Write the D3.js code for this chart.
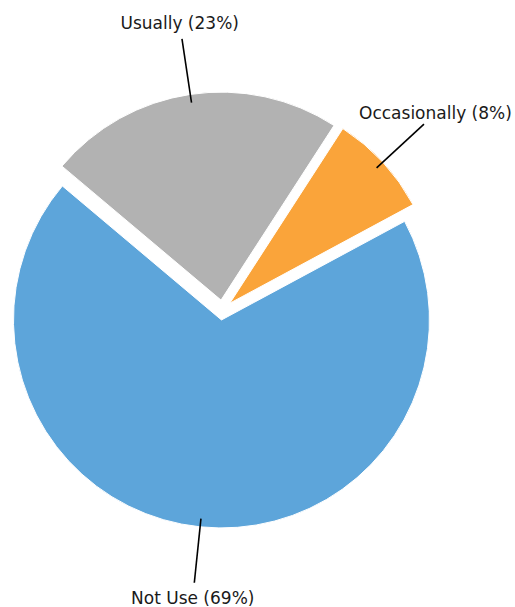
<!DOCTYPE html>
<html>
<head>
<meta charset="utf-8">
<script src="https://cdn.jsdelivr.net/npm/d3@7"></script>
<style>
  html, body { margin: 0; padding: 0; background: #fff; }
  svg { display: block; font-family: "DejaVu Sans", sans-serif; }
</style>
</head>
<body>
<div id="chart"></div>
<script>
// Frecuencia de uso: tres categorías, con todas las porciones separadas.
const categories = ['Not Use', 'Usually', 'Occasionally'];
const shares = [69, 23, 8];
const colors = ['#5DA5DA', '#B2B2B2', '#FAA43A'];

const width = 515, height = 607;
const cx = 222.5, cy = 310, radius = 208;
const explode = 10;
const startDeg = 61.7;

const svg = d3.select('#chart').append('svg')
  .attr('width', width).attr('height', height);

const pie = d3.pie().sort(null).value(d => d.v)
  .startAngle(startDeg * Math.PI / 180)
  .endAngle((startDeg + 360) * Math.PI / 180);

const items = categories.map((c, i) => ({ name: c, v: shares[i], color: colors[i] }));
const arcs = pie(items);
const arc = d3.arc().innerRadius(0).outerRadius(radius);

// punto a distancia r sobre la bisectriz de la porción
function polar(a, r) { return [Math.sin(a) * r, -Math.cos(a) * r]; }

const g = svg.append('g').attr('transform', `translate(${cx},${cy})`);

const slices = g.selectAll('.slice').data(arcs).join('g')
  .attr('class', 'slice')
  .attr('transform', d => {
    const [dx, dy] = polar((d.startAngle + d.endAngle) / 2, explode);
    return `translate(${dx},${dy})`;
  });

slices.append('path')
  .attr('d', arc)
  .attr('fill', d => d.data.color)
  .attr('stroke', '#fff').attr('stroke-width', 1);

slices.append('line')
  .each(function (d) {
    const mid = (d.startAngle + d.endAngle) / 2;
    const [x1, y1] = polar(mid, radius * 0.96);
    const [x2, y2] = polar(mid, radius * 1.27);
    d3.select(this).attr('x1', x1).attr('y1', y1).attr('x2', x2).attr('y2', y2);
  })
  .attr('stroke', '#000').attr('stroke-width', 1.6);

slices.append('text')
  .each(function (d) {
    const [x, y] = polar((d.startAngle + d.endAngle) / 2, radius * 1.345);
    d3.select(this).attr('x', x).attr('y', y);
  })
  .attr('text-anchor', 'middle').attr('dy', '0.35em')
  .attr('font-size', '17px').attr('fill', '#1a1a1a')
  .text(d => `${d.data.name} (${d.data.v}%)`);
</script>
</body>
</html>
